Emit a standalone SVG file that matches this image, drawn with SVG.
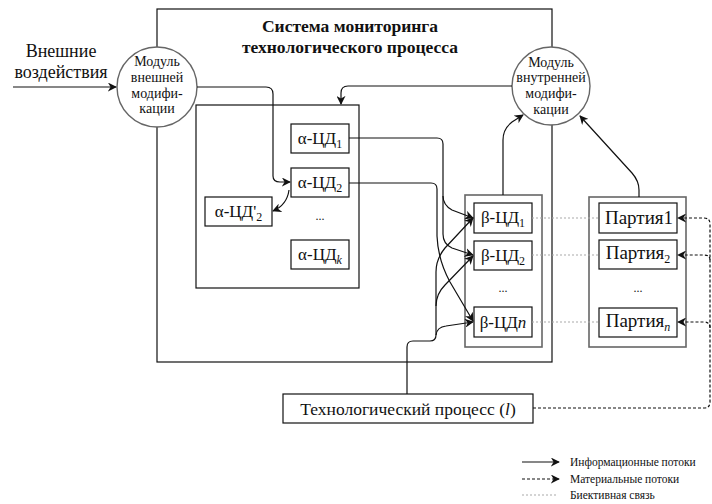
<svg xmlns="http://www.w3.org/2000/svg" width="712" height="504" viewBox="0 0 712 504">
<style>
text{font-family:"Liberation Serif","Tinos","Times New Roman",serif;fill:#111}
.t16{font-size:17px}
.t15{font-size:19px}
.c13{font-size:14px}
.lg{font-size:11.5px}
.box{fill:#fff;stroke:#111;stroke-width:1.2}
.gbox{fill:#fff;stroke:#666;stroke-width:1.6}
.circ{fill:#fff;stroke:#666;stroke-width:1.4}
.e{fill:none;stroke:#111;stroke-width:1.2}
.d{fill:none;stroke:#111;stroke-width:1.2;stroke-dasharray:3 2}
.b{fill:none;stroke:#aaa;stroke-width:1.2;stroke-dasharray:2 2}
</style>
<defs>
<marker id="a" viewBox="0 0 10 10" refX="9" refY="5" markerWidth="9" markerHeight="9" markerUnits="userSpaceOnUse" orient="auto">
<path d="M0,0 L10,5 L0,10 L3,5 z" fill="#111"/>
</marker>
</defs>
<rect width="712" height="504" fill="#fff"/>

<g id="system">
<rect x="157" y="9" width="395" height="353" fill="#fff" stroke="#111" stroke-width="1.2"/>
<text x="350" y="32" text-anchor="middle" font-size="17.5" font-weight="bold">Система мониторинга</text>
<text x="350" y="53" text-anchor="middle" font-size="17.5" font-weight="bold">технологического процесса</text>
</g>

<g id="alpha-group">
<rect class="box" x="196" y="105" width="163" height="183"/>
</g>
<g id="alpha1"><rect class="box" x="291" y="124" width="58" height="29"/><text class="t16" x="320" y="144" text-anchor="middle">α-ЦД<tspan font-size="12" dy="4">1</tspan></text></g>
<g id="alpha2"><rect class="box" x="291" y="168" width="58" height="29"/><text class="t16" x="320" y="188" text-anchor="middle">α-ЦД<tspan font-size="12" dy="4">2</tspan></text></g>
<g id="alpha2p"><rect class="box" x="205" y="197" width="67" height="29"/><text class="t16" x="238.5" y="217" text-anchor="middle">α-ЦД'<tspan font-size="12" dy="4">2</tspan></text></g>
<g id="alpha-dots"><text x="320" y="220" text-anchor="middle" font-size="12">...</text></g>
<g id="alphak"><rect class="box" x="291" y="240" width="58" height="29"/><text class="t16" x="320" y="260" text-anchor="middle">α-ЦД<tspan font-size="12" dy="4" font-style="italic">k</tspan></text></g>

<g id="beta-group"><rect class="gbox" x="465" y="195" width="77" height="152"/></g>
<g id="beta1"><rect class="box" x="474" y="203" width="58" height="30"/><text class="t16" x="503" y="223" text-anchor="middle">β-ЦД<tspan font-size="12" dy="4">1</tspan></text></g>
<g id="beta2"><rect class="box" x="474" y="241" width="58" height="29"/><text class="t16" x="503" y="261" text-anchor="middle">β-ЦД<tspan font-size="12" dy="4">2</tspan></text></g>
<g id="beta-dots"><text x="503" y="292" text-anchor="middle" font-size="12">...</text></g>
<g id="betan"><rect class="box" x="474" y="307" width="58" height="30"/><text class="t16" x="503" y="328" text-anchor="middle">β-ЦД<tspan font-style="italic">n</tspan></text></g>

<g id="party-group"><rect class="gbox" x="589" y="197" width="97" height="150"/></g>
<g id="party1"><rect class="box" x="599" y="203" width="78" height="30"/><text class="t15" x="639" y="224" text-anchor="middle">Партия1</text></g>
<g id="party2"><rect class="box" x="599" y="240" width="78" height="29"/><text class="t15" x="638" y="259" text-anchor="middle">Партия<tspan font-size="12" dy="4">2</tspan></text></g>
<g id="party-dots"><text x="638" y="292" text-anchor="middle" font-size="12">...</text></g>
<g id="partyn"><rect class="box" x="599" y="308" width="78" height="29"/><text class="t15" x="638" y="327" text-anchor="middle">Партия<tspan font-size="12" dy="4" font-style="italic">n</tspan></text></g>

<g id="ext-module">
<circle class="circ" cx="157" cy="87" r="40"/>
<text class="c13" x="157" y="66" text-anchor="middle">Модуль</text>
<text class="c13" x="157" y="82" text-anchor="middle">внешней</text>
<text class="c13" x="157" y="98" text-anchor="middle">модифи-</text>
<text class="c13" x="157" y="113" text-anchor="middle">кации</text>
</g>
<g id="int-module">
<circle class="circ" cx="551" cy="86" r="39"/>
<text class="c13" x="551" y="67" text-anchor="middle">Модуль</text>
<text class="c13" x="551" y="82" text-anchor="middle">внутренней</text>
<text class="c13" x="551" y="98" text-anchor="middle">модифи-</text>
<text class="c13" x="551" y="114" text-anchor="middle">кации</text>
</g>

<g id="external-label">
<text x="61" y="57" text-anchor="middle" font-size="18">Внешние</text>
<text x="61" y="78" text-anchor="middle" font-size="18">воздействия</text>
</g>

<g id="process"><rect class="box" x="283" y="394" width="250" height="29"/><text x="408" y="415" text-anchor="middle" font-size="17.5">Технологический процесс (<tspan font-style="italic">l</tspan>)</text></g>

<g id="connectors">
<path class="e" d="M13 87 L116 87" marker-end="url(#a)"/>
<path class="e" d="M197 87 L266 87 Q273 87 273 94 L273 176 Q273 182 280 182 L290 182" marker-end="url(#a)"/>
<path class="e" d="M289 190 Q287 205 273 211" marker-end="url(#a)"/>
<path class="e" d="M512 86 L348 86 Q341 86 341 93 L341 104" marker-end="url(#a)"/>
<path class="e" d="M503 195 L503 140 Q503 129 512 122 L523 115" marker-end="url(#a)"/>
<path class="e" d="M639 197 L639 190 Q639 181 632 173 L580 116" marker-end="url(#a)"/>
<path class="e" d="M349 138 L437 138 Q443 138 443 144 L443 196 Q443 205 452 210 L473 218" marker-end="url(#a)"/>
<path class="e" d="M443 196 L443 234 Q443 244 452 248 L473 255" marker-end="url(#a)"/>
<path class="e" d="M349 183 L431 183 Q437 183 437 189 L437 236 Q438 260 450 282 L473 321" marker-end="url(#a)"/>
<path class="e" d="M407 394 L407 347 Q407 341 413 341 L430 341 Q436 341 436 335 Q437 327 446 326 L473 322" marker-end="url(#a)"/>
<path class="e" d="M436 335 L436 272 Q436 259 445 248 L473 218" marker-end="url(#a)"/>
<path class="e" d="M436 306 Q436 294 445 285 L473 256" marker-end="url(#a)"/>
<path class="d" d="M533 408 L704 408 Q710 408 710 402 L710 224 Q710 218 704 218 L678 218" marker-end="url(#a)"/>
<path class="d" d="M710 260 Q710 255 704 255 L678 255" marker-end="url(#a)"/>
<path class="d" d="M710 328 Q710 322 704 322 L678 322" marker-end="url(#a)"/>
<path class="b" d="M532 218 L599 218"/>
<path class="b" d="M532 255 L599 255"/>
<path class="b" d="M532 322 L599 322"/>
</g>

<g id="legend">
<path class="e" d="M522 462 L559 462" marker-end="url(#a)"/>
<text class="lg" x="570" y="466">Информационные потоки</text>
<path class="d" d="M522 479 L559 479" marker-end="url(#a)"/>
<text class="lg" x="570" y="483">Материальные потоки</text>
<path class="b" d="M522 495 L558 495"/>
<text class="lg" x="570" y="499">Биективная связь</text>
</g>
</svg>
